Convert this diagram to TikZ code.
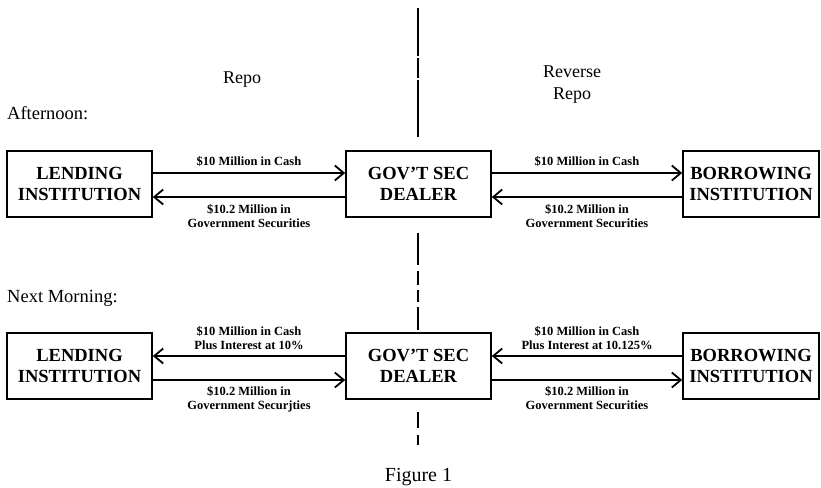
\documentclass[tikz,border=0pt]{standalone}
\usepackage{fontspec}
\setmainfont{Liberation Serif}
\usetikzlibrary{arrows.meta}
\begin{document}
\begin{tikzpicture}[x=1pt,y=-1pt,
  box/.style={draw,line width=1.6pt,minimum width=145pt,minimum height=66pt,inner sep=0pt,align=center,font=\bfseries\fontsize{18.5}{21}\selectfont},
  flow/.style={line width=2pt,-{Straight Barb[length=9pt,width=15pt,line width=1.8pt]}},
  lbl/.style={align=center,font=\bfseries\fontsize{12.5}{14.5}\selectfont,inner sep=0pt},
  head/.style={font=\fontsize{18}{22}\selectfont,align=center,inner sep=0pt},
  side/.style={font=\fontsize{18.5}{21}\selectfont,anchor=west,inner sep=0pt},
  divider/.style={line width=1.2pt}]
\useasboundingbox (0,0) rectangle (821,487);
% boxes
\node[box] (lt) at (79.5,184) {LENDING\\INSTITUTION};
\node[box] (dt) at (418.5,184) {GOV'T SEC\\DEALER};
\node[box,minimum width=136pt] (bt) at (751,184) {BORROWING\\INSTITUTION};
\node[box] (lb) at (79.5,366) {LENDING\\INSTITUTION};
\node[box] (db) at (418.5,366) {GOV'T SEC\\DEALER};
\node[box,minimum width=136pt] (bb) at (751,366) {BORROWING\\INSTITUTION};
% headings
\node[head] (repo) at (242,80) {Repo};
\node[head] (rrepo) at (572,85) {Reverse\\Repo};
\node[side] (aft) at (7,113) {Afternoon:};
\node[side] (nm) at (7,298) {Next Morning:};
\node[head,font=\fontsize{20}{22}\selectfont] (fig) at (418.5,477) {Figure 1};
% divider
\coordinate (d1) at (418,8);
\coordinate (d2) at (418,137);
\coordinate (d3) at (418,233);
\coordinate (d4) at (418,330);
\coordinate (d5) at (418,412);
\coordinate (d6) at (418,445);
\draw[divider,dash pattern=on 48pt off 2pt on 20pt off 2pt on 57pt] (d1) -- (d2);
\draw[divider,dash pattern=on 32pt off 6pt on 14pt off 5pt on 12pt off 5pt on 30pt] (d3) -- (d4);
\draw[divider,dash pattern=on 16pt off 7pt on 10pt] (d5) -- (d6);
% afternoon flows
\draw[flow] (lt.east|-0,173) -- (dt.west|-0,173) node[lbl,midway,above=6pt] {\$10 Million in Cash};
\draw[flow] (dt.west|-0,197) -- (lt.east|-0,197) node[lbl,midway,below=6pt] {\$10.2 Million in\\Government Securities};
\draw[flow] (dt.east|-0,173) -- (bt.west|-0,173) node[lbl,midway,above=6pt] {\$10 Million in Cash};
\draw[flow] (bt.west|-0,197) -- (dt.east|-0,197) node[lbl,midway,below=6pt] {\$10.2 Million in\\Government Securities};
% next morning flows
\draw[flow] (db.west|-0,356) -- (lb.east|-0,356) node[lbl,midway,above=5pt] {\$10 Million in Cash\\Plus Interest at 10\%};
\draw[flow] (lb.east|-0,380) -- (db.west|-0,380) node[lbl,midway,below=5pt] {\$10.2 Million in\\Government Securjties};
\draw[flow] (bb.west|-0,356) -- (db.east|-0,356) node[lbl,midway,above=5pt] {\$10 Million in Cash\\Plus Interest at 10.125\%};
\draw[flow] (db.east|-0,380) -- (bb.west|-0,380) node[lbl,midway,below=5pt] {\$10.2 Million in\\Government Securities};
\end{tikzpicture}
\end{document}
